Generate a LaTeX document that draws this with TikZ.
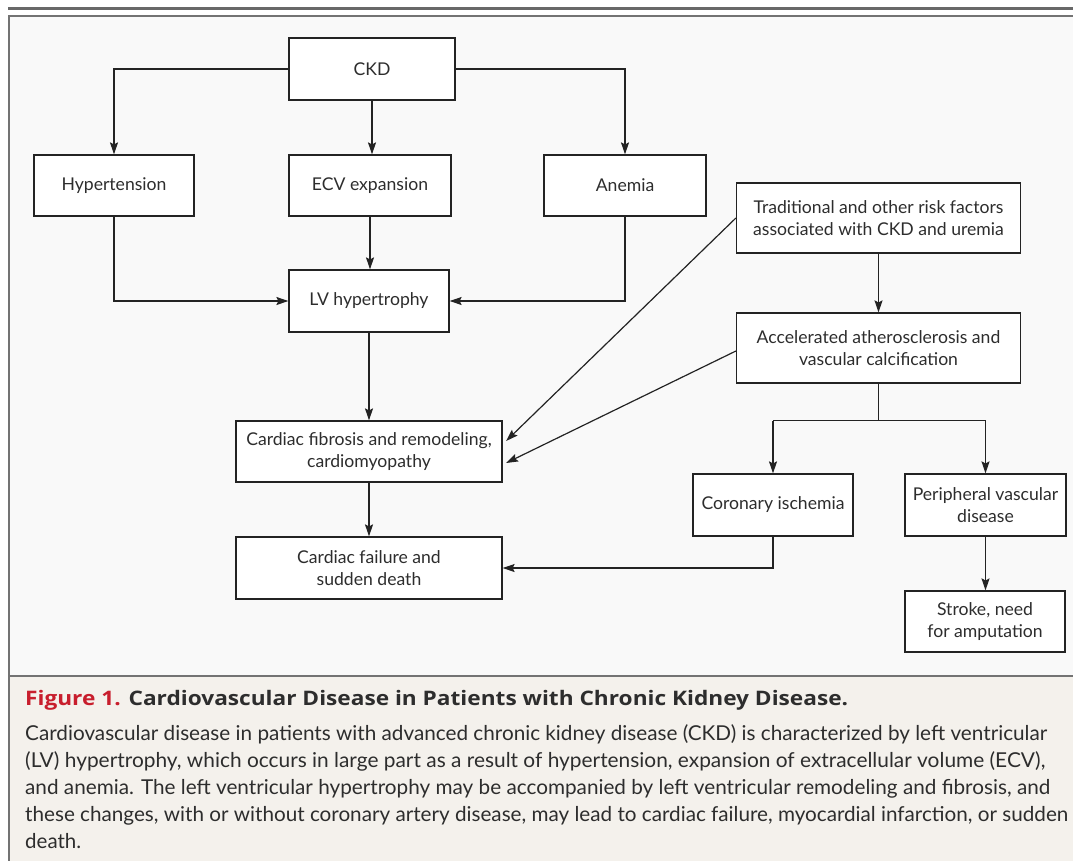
\documentclass[tikz,border=0pt]{standalone}
\usepackage{fontspec}
\setmainfont{Lato}
\newfontfamily\titlefont{Open Sans}
\usetikzlibrary{arrows.meta,calc}
\newcommand{\mycapline}[2]{\resizebox{#1}{\height}{#2}}
\definecolor{panelbg}{RGB}{249,249,249}
\definecolor{capbg}{RGB}{244,241,236}
\definecolor{framegray}{RGB}{115,115,115}
\definecolor{linedark}{RGB}{35,35,35}
\definecolor{txtdark}{RGB}{45,45,45}
\definecolor{figred}{RGB}{200,30,45}
\tikzset{
  boxnode/.style={draw=linedark, line width=1.2pt, fill=white, align=center, inner sep=0pt,
    text=txtdark, font=\fontsize{17.6}{21.5}\selectfont},
  arr/.style={draw=linedark, line width=1.2pt, -{Stealth[length=12pt,width=8pt,inset=2pt]}},
  ln/.style={draw=linedark, line width=1.2pt},
  captxt/.style={anchor=base west, inner sep=0pt, text=txtdark, font=\fontsize{20.5}{27}\selectfont}
}
\begin{document}
\begin{tikzpicture}[x=1pt,y=-1pt]
\useasboundingbox (0,0) rectangle (1073,860);
\clip (0,0) rectangle (1073,860);
% backgrounds and frame
\fill[panelbg] (9,16) rectangle (1090,676);
\fill[capbg] (9,676) rectangle (1090,880);
\draw[framegray, line width=2pt] (9,16) rectangle (1090,880);
\draw[framegray, line width=2pt] (9,676) -- (1090,676);
\draw[framegray!90!black, line width=2.2pt] (8,8.5) -- (1080,8.5);
% nodes
\node[boxnode, minimum width=166pt, minimum height=62pt] (ckd) at (372,69) {CKD};
\node[boxnode, minimum width=160pt, minimum height=61pt] (hyp) at (114,185.5) {Hypertension};
\node[boxnode, minimum width=162pt, minimum height=61pt] (ecv) at (370,185.5) {ECV expansion};
\node[boxnode, minimum width=162pt, minimum height=61pt] (anem) at (625,185.5) {Anemia};
\node[boxnode, minimum width=160pt, minimum height=62pt] (lvh) at (369,301) {LV hypertrophy};
\node[boxnode, minimum width=266pt, minimum height=61pt] (fib) at (369,451.5) {Cardiac fibrosis and remodeling,\\cardiomyopathy};
\node[boxnode, minimum width=266pt, minimum height=62pt] (fail) at (369,568) {Cardiac failure and\\sudden death};
\node[boxnode, minimum width=284pt, minimum height=70pt] (trad) at (878.5,218) {Traditional and other risk factors\\associated with CKD and uremia};
\node[boxnode, minimum width=284pt, minimum height=70pt] (accel) at (878.5,348) {Accelerated atherosclerosis and\\vascular calcification};
\node[boxnode, minimum width=160pt, minimum height=62pt] (cor) at (773,505) {Coronary ischemia};
\node[boxnode, minimum width=161pt, minimum height=62pt] (per) at (985.5,505) {Peripheral vascular\\disease};
\node[boxnode, minimum width=160pt, minimum height=61pt] (stroke) at (985,621.5) {Stroke, need\\for amputation};
% connectors
\draw[arr] (ckd.west) -| (hyp.north);
\draw[arr] (ckd.east) -| (anem.north);
\draw[arr] (ckd.south) -- (ckd.south |- ecv.north);
\draw[arr] (ecv.south) -- (ecv.south |- lvh.north);
\draw[arr] (hyp.south) |- (lvh.west);
\draw[arr] (anem.south) |- (lvh.east);
\draw[arr] (lvh.south) -- (lvh.south |- fib.north);
\draw[arr] (fib.south) -- (fib.south |- fail.north);
\draw[arr] (trad.south) -- (trad.south |- accel.north);
\coordinate (branch) at ($(accel.south)+(0,37)$);
\draw[ln] (accel.south) -- (branch);
\draw[ln] (branch -| cor.north) -- (branch -| per.north);
\draw[arr] (branch -| cor.north) -- (cor.north);
\draw[arr] (branch -| per.north) -- (per.north);
\draw[arr] (cor.south) |- (fail.east);
\draw[arr] (per.south) -- (per.south |- stroke.north);
\draw[arr] (trad.west) -- ($(fib.east)+(3.5,-10.5)$);
\draw[arr] ($(accel.west)+(0,3)$) -- ($(fib.east)+(3.5,11.5)$);
% caption
\node[captxt, font=\titlefont\fontsize{20}{27}\selectfont\bfseries] (title) at (25,705) {\mycapline{823pt}{\textcolor{figred}{Figure 1.} Cardiovascular Disease in Patients with Chronic Kidney Disease.}};
\node[captxt] (c1) at (25,740) {\mycapline{1022pt}{Cardiovascular disease in patients with advanced chronic kidney disease (CKD) is characterized by left ventricular}};
\node[captxt] (c2) at (25,767) {\mycapline{1020pt}{(LV) hypertrophy, which occurs in large part as a result of hypertension, expansion of extracellular volume (ECV),}};
\node[captxt] (c3) at (25,794) {\mycapline{1025pt}{and anemia. The left ventricular hypertrophy may be accompanied by left ventricular remodeling and fibrosis, and}};
\node[captxt] (c4) at (25,821) {\mycapline{1043pt}{these changes, with or without coronary artery disease, may lead to cardiac failure, myocardial infarction, or sudden}};
\node[captxt] (c5) at (25,848) {death.};
\end{tikzpicture}
\end{document}
